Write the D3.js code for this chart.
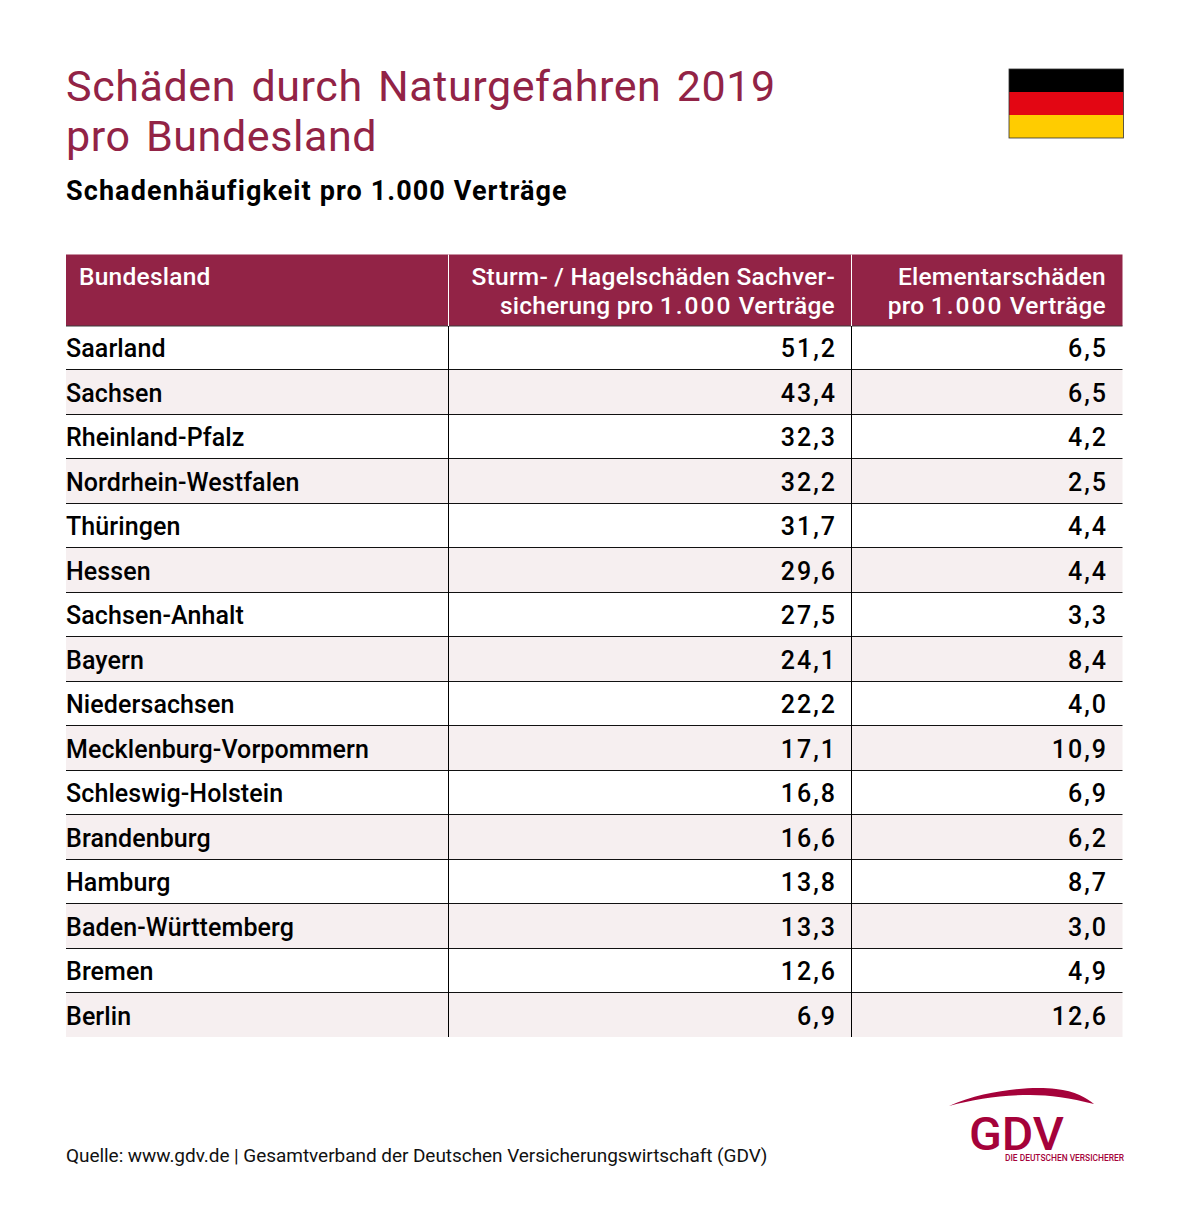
<!DOCTYPE html>
<html lang="de">
<head>
<meta charset="utf-8">
<script src="https://cdn.jsdelivr.net/npm/d3@7"></script>
<style>
  html, body { margin: 0; padding: 0; background: #fff; }
  text { font-family: Roboto, sans-serif; }
</style>
</head>
<body>
<svg id="chart" width="1196" height="1229"></svg>
<script>
const titleLines = ["Schäden durch Naturgefahren 2019", "pro Bundesland"];
const subtitle = "Schadenhäufigkeit pro 1.000 Verträge";
const columnHeads = [
  ["Bundesland"],
  ["Sturm- / Hagelschäden Sachver-", "sicherung pro 1.000 Verträge"],
  ["Elementarschäden", "pro 1.000 Verträge"]
];
const states = ["Saarland", "Sachsen", "Rheinland-Pfalz", "Nordrhein-Westfalen", "Thüringen", "Hessen",
  "Sachsen-Anhalt", "Bayern", "Niedersachsen", "Mecklenburg-Vorpommern", "Schleswig-Holstein",
  "Brandenburg", "Hamburg", "Baden-Württemberg", "Bremen", "Berlin"];
const sturm = [51.2, 43.4, 32.3, 32.2, 31.7, 29.6, 27.5, 24.1, 22.2, 17.1, 16.8, 16.6, 13.8, 13.3, 12.6, 6.9];
const elementar = [6.5, 6.5, 4.2, 2.5, 4.4, 4.4, 3.3, 8.4, 4.0, 10.9, 6.9, 6.2, 8.7, 3.0, 4.9, 12.6];
const flagColors = ["#000000", "#e30613", "#ffcc00"];
const source = "Quelle: www.gdv.de | Gesamtverband der Deutschen Versicherungswirtschaft (GDV)";

const wine = "#922346";
const svg = d3.select("#chart");
const fmt = v => d3.format(".1f")(v).replace(".", ",");

// title block
svg.selectAll(".title").data(titleLines).enter().append("text")
  .attr("class", "title")
  .attr("x", 66)
  .attr("y", (d, i) => 101 + i * 50)
  .attr("fill", wine)
  .attr("font-size", 43)
  .attr("letter-spacing", 0.6)
  .attr("word-spacing", 4)
  .text(d => d);

svg.append("text")
  .attr("x", 66).attr("y", 200)
  .attr("font-size", 27)
  .attr("font-weight", 700)
  .attr("letter-spacing", 1.1)
  .attr("fill", "#000")
  .text(subtitle);

// flag
const flagY = d3.scaleBand().domain(flagColors).range([69, 138]);
svg.selectAll(".flag").data(flagColors).enter().append("rect")
  .attr("class", "flag")
  .attr("x", 1009).attr("width", 114.5)
  .attr("y", d => flagY(d))
  .attr("height", flagY.bandwidth())
  .attr("fill", d => d);
svg.append("rect")
  .attr("x", 1009).attr("y", 69).attr("width", 114.5).attr("height", 69)
  .attr("fill", "none").attr("stroke", "#333").attr("stroke-width", 0.8);

// table
const colEdges = [66, 448.5, 851.5, 1122.5];
const headTop = 254.5, headBottom = 326, tableBottom = 1037;
const rowY = d3.scaleBand().domain(states).range([325.5, tableBottom]);
const textY = d3.scalePoint().domain(states).range([357, 1024.8]);

svg.selectAll(".band").data(states).enter().append("rect")
  .attr("class", "band")
  .attr("x", colEdges[0])
  .attr("y", d => rowY(d))
  .attr("width", colEdges[3] - colEdges[0])
  .attr("height", rowY.bandwidth())
  .attr("fill", (d, i) => i % 2 ? "#f6eff0" : "#fff");

svg.append("rect")
  .attr("x", colEdges[0]).attr("y", headTop)
  .attr("width", colEdges[3] - colEdges[0]).attr("height", headBottom - headTop)
  .attr("fill", wine);

svg.selectAll(".rule").data(states.slice(0, -1)).enter().append("line")
  .attr("class", "rule")
  .attr("x1", colEdges[0]).attr("x2", colEdges[3])
  .attr("y1", d => Math.floor(rowY(d) + rowY.bandwidth()) + 0.5)
  .attr("y2", d => Math.floor(rowY(d) + rowY.bandwidth()) + 0.5)
  .attr("stroke", "#111").attr("stroke-width", 1);

svg.append("line")
  .attr("x1", colEdges[0]).attr("x2", colEdges[3])
  .attr("y1", headBottom).attr("y2", headBottom)
  .attr("stroke", "#3a3a3a").attr("stroke-width", 1);

[colEdges[1], colEdges[2]].forEach(x => {
  svg.append("line").attr("x1", x).attr("x2", x)
    .attr("y1", headTop).attr("y2", headBottom).attr("stroke", "#fff");
  svg.append("line").attr("x1", x).attr("x2", x)
    .attr("y1", headBottom).attr("y2", tableBottom).attr("stroke", "#000");
});

// header text, the digits run wider than the letters
const headX = [79, 835, 1106];
const headAnchor = ["start", "end", "end"];
columnHeads.forEach((lines, c) => {
  svg.selectAll(".head" + c).data(lines).enter().append("text")
    .attr("class", "head" + c)
    .attr("x", headX[c])
    .attr("y", (d, i) => 285 + i * 29)
    .attr("text-anchor", headAnchor[c])
    .attr("fill", "#fff")
    .attr("font-size", 24.5)
    .attr("font-weight", 500)
    .attr("letter-spacing", 0.25)
    .html(d => d.replace("1.000", '<tspan letter-spacing="2">1.000</tspan>'));
});

// table cells
const cell = (cls, values, x, anchor, format, spacing) => {
  svg.selectAll("." + cls).data(values).enter().append("text")
    .attr("class", cls)
    .attr("x", x)
    .attr("y", (d, i) => textY(states[i]))
    .attr("text-anchor", anchor)
    .attr("fill", "#000")
    .attr("font-size", 25)
    .attr("font-weight", 500)
    .attr("letter-spacing", spacing)
    .text(format);
};
cell("state", states, 66, "start", d => d, 0.1);
cell("sturm", sturm, 837, "end", fmt, 2);
cell("elementar", elementar, 1108, "end", fmt, 2);

// source
svg.append("text")
  .attr("x", 66).attr("y", 1162)
  .attr("font-size", 19)
  .attr("letter-spacing", -0.05)
  .attr("fill", "#111")
  .text(source);

// logo
svg.append("path")
  .attr("d", "M949,1106 C985,1090 1030,1086 1056,1089 C1075,1091 1087,1098 1094,1104 C1070,1098 1050,1095 1030,1095 C1000,1095 975,1099 949,1106 Z")
  .attr("fill", "#a5023a");
svg.append("text")
  .attr("x", 969).attr("y", 1150)
  .attr("font-size", 46)
  .attr("font-family", "Noto Sans")
  .attr("font-weight", 500)
  .attr("fill", "#a5023a")
  .attr("textLength", 95)
  .attr("lengthAdjust", "spacingAndGlyphs")
  .text("GDV");
svg.append("text")
  .attr("x", 1005).attr("y", 1161)
  .attr("font-size", 8.5)
  .attr("font-family", "Noto Sans")
  .attr("font-weight", 500)
  .attr("fill", "#a5023a")
  .attr("textLength", 119)
  .attr("lengthAdjust", "spacingAndGlyphs")
  .text("DIE DEUTSCHEN VERSICHERER");
</script>
</body>
</html>
